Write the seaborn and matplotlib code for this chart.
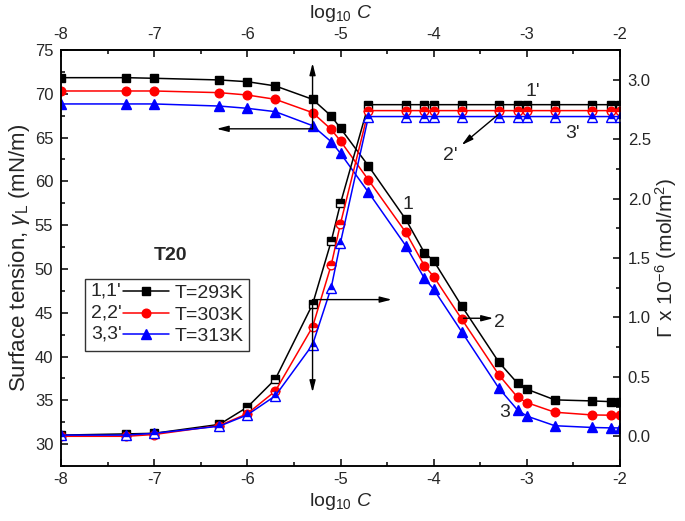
import numpy as np
import pandas as pd
import matplotlib
matplotlib.use("Agg")
import matplotlib.pyplot as plt
import seaborn as sns
from matplotlib.legend_handler import HandlerLine2D
from matplotlib.text import Text
from matplotlib.ticker import MultipleLocator, FormatStrFormatter

# ---------------- data ----------------
log_c = [-8, -7.3, -7, -6.3, -6, -5.7, -5.3, -5.1, -5, -4.7, -4.3,
         -4.1, -4, -3.7, -3.3, -3.1, -3, -2.7, -2.3, -2.1, -2]

# surface tension (mN/m), curves 1,2,3
gamma_293 = [71.84, 71.84, 71.77, 71.58, 71.38, 70.9, 69.37, 67.47, 66.06, 61.76, 55.67,
             51.86, 50.93, 45.78, 39.35, 36.95, 36.27, 35.05, 34.93, 34.85, 34.82]
gamma_303 = [70.32, 70.32, 70.32, 70.13, 69.86, 69.37, 67.85, 65.94, 64.6, 60.16, 54.19,
             50.38, 49.13, 44.29, 37.9, 35.35, 34.74, 33.64, 33.33, 33.3, 33.3]
gamma_313 = [68.84, 68.84, 68.84, 68.6, 68.34, 67.96, 66.36, 64.53, 63.2, 58.75, 52.66,
             48.93, 47.68, 42.84, 36.38, 33.9, 33.2, 32.1, 31.9, 31.85, 31.85]

# adsorption Gamma x 1e-6 (mol/m2), curves 1',2',3'
ads_293 = [0.01, 0.02, 0.025, 0.10, 0.245, 0.48, 1.11, 1.64, 1.96, 2.79, 2.79,
           2.79, 2.79, 2.79, 2.79, 2.79, 2.79, 2.79, 2.79, 2.79, 2.79]
ads_303 = [0.0, 0.0, 0.015, 0.09, 0.19, 0.38, 0.92, 1.44, 1.79, 2.74, 2.74,
           2.74, 2.74, 2.74, 2.74, 2.74, 2.74, 2.74, 2.74, 2.74, 2.74]
ads_313 = [0.01, 0.01, 0.025, 0.085, 0.18, 0.34, 0.77, 1.25, 1.63, 2.69, 2.69,
           2.69, 2.69, 2.69, 2.69, 2.69, 2.69, 2.69, 2.69, 2.69, 2.69]

temps = ["T=293K", "T=303K", "T=313K"]
prefixes = ["1,1'", "2,2'", "3,3'"]
colors = ["#000000", "#FF0000", "#0000FF"]
markers = ["s", "o", "^"]
msizes = [5.2, 6.2, 6.8]

x_ticks = [-8, -7, -6, -5, -4, -3, -2]

# ---------------- style ----------------
sns.set_style("ticks")
plt.rcParams["font.family"] = ["Liberation Sans", "DejaVu Sans"]
plt.rcParams["mathtext.fontset"] = "custom"
plt.rcParams["mathtext.rm"] = "Liberation Sans"
plt.rcParams["mathtext.it"] = "Liberation Sans:italic"
plt.rcParams["mathtext.bf"] = "Liberation Sans:bold"
plt.rcParams["axes.unicode_minus"] = False

TICK_FS = 12
XLABEL_FS = 14
YLABEL_FS = 16
Y2LABEL_FS = 15
TEXT_FS = 14
LEG_FS = 14

fig = plt.figure(figsize=(6.85, 5.21), dpi=100)
ax = fig.add_axes([61 / 685, 1 - 466 / 521, 559 / 685, 416 / 521])
ax2 = ax.twinx()

gammas = [gamma_293, gamma_303, gamma_313]
adss = [ads_293, ads_303, ads_313]

handles = []
for g, a, c, m, ms in zip(gammas, adss, colors, markers, msizes):
    sns.lineplot(x=log_c, y=g, ax=ax, color=c, marker=m, markersize=ms,
                 markeredgecolor=c, markerfacecolor=c, markeredgewidth=1,
                 linewidth=1.1, legend=False)
    handles.append(ax.lines[-1])
    sns.lineplot(x=log_c, y=a, ax=ax2, color=c, marker=m, markersize=ms,
                 markeredgecolor=c, markerfacecolor=c, markerfacecoloralt="white",
                 fillstyle="top", markeredgewidth=1, linewidth=1.1, legend=False)

ax.set_xlim(-8, -2)
ax.set_ylim(27.5, 75)
ax2.set_ylim(-0.25, 3.25)

ax.set_xticks(x_ticks)
ax.xaxis.set_minor_locator(MultipleLocator(0.5))
ax.yaxis.set_major_locator(MultipleLocator(5))
ax.yaxis.set_minor_locator(MultipleLocator(2.5))
ax2.yaxis.set_major_locator(MultipleLocator(0.5))
ax2.yaxis.set_minor_locator(MultipleLocator(0.25))
ax2.yaxis.set_major_formatter(FormatStrFormatter("%.1f"))

secax = ax.secondary_xaxis("top")
secax.set_xticks(x_ticks)
secax.xaxis.set_minor_locator(MultipleLocator(0.5))

for a_ in (ax, ax2, secax):
    a_.tick_params(which="major", direction="in", length=5, width=1.1,
                   labelsize=TICK_FS, color="black")
    a_.tick_params(which="minor", direction="in", length=3, width=1.1, color="black")
ax.tick_params(axis="x", pad=4)
ax.tick_params(axis="y", pad=5.5)
ax2.tick_params(axis="y", pad=5.5)
secax.tick_params(axis="x", pad=6)

for a_ in (ax, ax2):
    for s in a_.spines.values():
        s.set_linewidth(1.1)
        s.set_color("black")
for s in secax.spines.values():
    s.set_linewidth(1.1)

ax.set_xlabel(r"log$_{10}$ $C$", fontsize=XLABEL_FS, labelpad=3)
secax.set_xlabel(r"log$_{10}$ $C$", fontsize=XLABEL_FS, labelpad=6)
ax.set_ylabel(r"Surface tension, $\gamma_{\rm L}$ (mN/m)", fontsize=YLABEL_FS, labelpad=2)
ax2.set_ylabel(r"$\Gamma$ x 10$^{-6}$ (mol/m$^2$)", fontsize=Y2LABEL_FS, labelpad=2,
               rotation=90)

# ---------------- annotations ----------------
arrow_kw = dict(arrowstyle="-|>,head_length=0.7,head_width=0.18", color="black",
                lw=1, shrinkA=0, shrinkB=0)
# on surface tension axis
ax.annotate("", xy=(-5.3, 73.5), xytext=(-5.3, 66.0), arrowprops=arrow_kw)
ax.annotate("", xy=(-6.33, 66.0), xytext=(-5.3, 66.0), arrowprops=arrow_kw)
ax.annotate("", xy=(-3.36, 44.37), xytext=(-3.68, 44.37), arrowprops=arrow_kw)
# on adsorption axis
ax2.annotate("", xy=(-5.3, 0.37), xytext=(-5.3, 1.15), arrowprops=arrow_kw)
ax2.annotate("", xy=(-4.45, 1.15), xytext=(-5.3, 1.15), arrowprops=arrow_kw)
ax2.annotate("", xy=(-3.70, 2.45), xytext=(-3.31, 2.705), arrowprops=arrow_kw)

ax.text(-4.28, 57.4, "1", fontsize=TEXT_FS, ha="center", va="center")
ax.text(-3.35, 43.9, "2", fontsize=TEXT_FS, ha="left", va="center")
ax.text(-3.24, 33.6, "3", fontsize=TEXT_FS, ha="center", va="center")
ax2.text(-2.94, 2.90, "1'", fontsize=TEXT_FS, ha="center", va="center")
ax2.text(-3.82, 2.36, "2'", fontsize=TEXT_FS, ha="center", va="center")
ax2.text(-2.51, 2.55, "3'", fontsize=TEXT_FS, ha="center", va="center")
ax.text(-6.83, 51.5, "T20", fontsize=TEXT_FS, fontweight="bold", ha="center", va="center")


# ---------------- legend (Origin style: "1,1'—■— T=293K") ----------------
class PrefixHandler(HandlerLine2D):
    def __init__(self, prefix, text_w, **kw):
        super().__init__(**kw)
        self.prefix = prefix
        self.text_w = text_w

    def create_artists(self, legend, orig_handle, xdescent, ydescent, width,
                       height, fontsize, trans):
        tw = self.text_w * fontsize
        arts = super().create_artists(legend, orig_handle, xdescent - tw, ydescent,
                                      width - tw, height, fontsize, trans)
        t = Text(-xdescent, (height - ydescent) / 2, self.prefix, ha="left",
                 va="center", fontsize=fontsize, transform=trans)
        return list(arts) + [t]


hmap = {h: PrefixHandler(p, 1.65) for h, p in zip(handles, prefixes)}
leg = ax2.legend(handles, temps, handler_map=hmap, loc="upper left",
                 bbox_to_anchor=(0.043, 0.45), borderaxespad=0, fontsize=LEG_FS,
                 handlelength=4.0, handletextpad=0.3, labelspacing=0.2,
                 borderpad=0.3, fancybox=False, framealpha=1, edgecolor="#333333")
leg.get_frame().set_linewidth(1.0)

fig.savefig("out.png", dpi=100)
